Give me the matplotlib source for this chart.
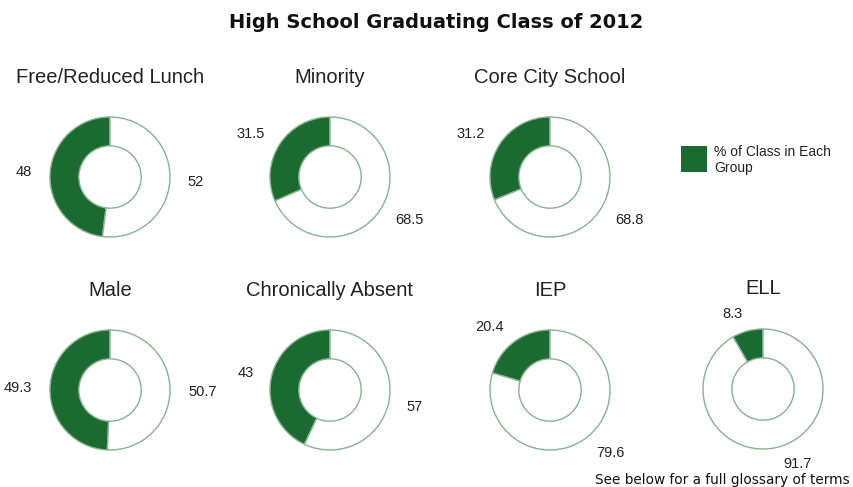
import matplotlib
matplotlib.use('Agg')
from matplotlib import pyplot as plt
import numpy as np

titles = ['Free/Reduced Lunch', 'Minority', 'Core City School',
          'Male', 'Chronically Absent', 'IEP', 'ELL']
in_group = [48, 31.5, 31.2, 49.3, 43, 20.4, 8.3]
not_in_group = [52, 68.5, 68.8, 50.7, 57, 79.6, 91.7]

# pixel centres of the donuts (y measured from the top)
centers = [(110, 177), (330, 177), (550, 177),
           (110, 390), (330, 390), (550, 390), (763, 389)]

W, H = 854, 487
R = 60
green = '#1a6a32'
edge = '#86b38f'

fig = plt.figure(figsize=(8.54, 4.87), dpi=100)
ax = fig.add_axes([0, 0, 1, 1])

for title, a, b, (cx, cy) in zip(titles, in_group, not_in_group, centers):
    cy = H - cy
    ax.pie([a, b], center=(cx, cy), radius=R, startangle=90, counterclock=True,
           colors=[green, 'white'],
           wedgeprops=dict(width=R * 0.48, edgecolor=edge, linewidth=1))
    # value labels placed outside the middle of each wedge
    start = 90
    for v in (a, b):
        span = v / 100 * 360
        mid = np.radians(start + span / 2)
        start += span
        x = cx + R * 1.3 * np.cos(mid)
        y = cy + R * 1.3 * np.sin(mid)
        ha = 'right' if np.cos(mid) < 0 else 'left'
        ax.text(x, y, f'{v:g}', ha=ha, va='center', fontsize=10.5,
                family='Liberation Sans', color='#222222')
    ax.text(cx, cy + R + 40, title, ha='center', va='center', fontsize=14.5,
            family='Liberation Sans', color='#222222')

ax.text(436, H - 22, 'High School Graduating Class of 2012', ha='center',
        va='center', fontsize=14, fontweight='bold', family='DejaVu Sans',
        color='#111111')

# legend
ax.add_patch(plt.Rectangle((681, H - 172), 26, 26, fc=green, ec='none'))
ax.text(714, H - 160, '% of Class in Each\nGroup', ha='left', va='center',
        fontsize=10, family='Liberation Sans', color='#222222', linespacing=1.1)

ax.text(850, H - 480, 'See below for a full glossary of terms', ha='right',
        va='center', fontsize=9.8, family='DejaVu Sans', color='#111111')

ax.set_xlim(0, W)
ax.set_ylim(0, H)
ax.set_aspect('equal')
ax.axis('off')

fig.savefig('out.png', dpi=100, facecolor='white')
